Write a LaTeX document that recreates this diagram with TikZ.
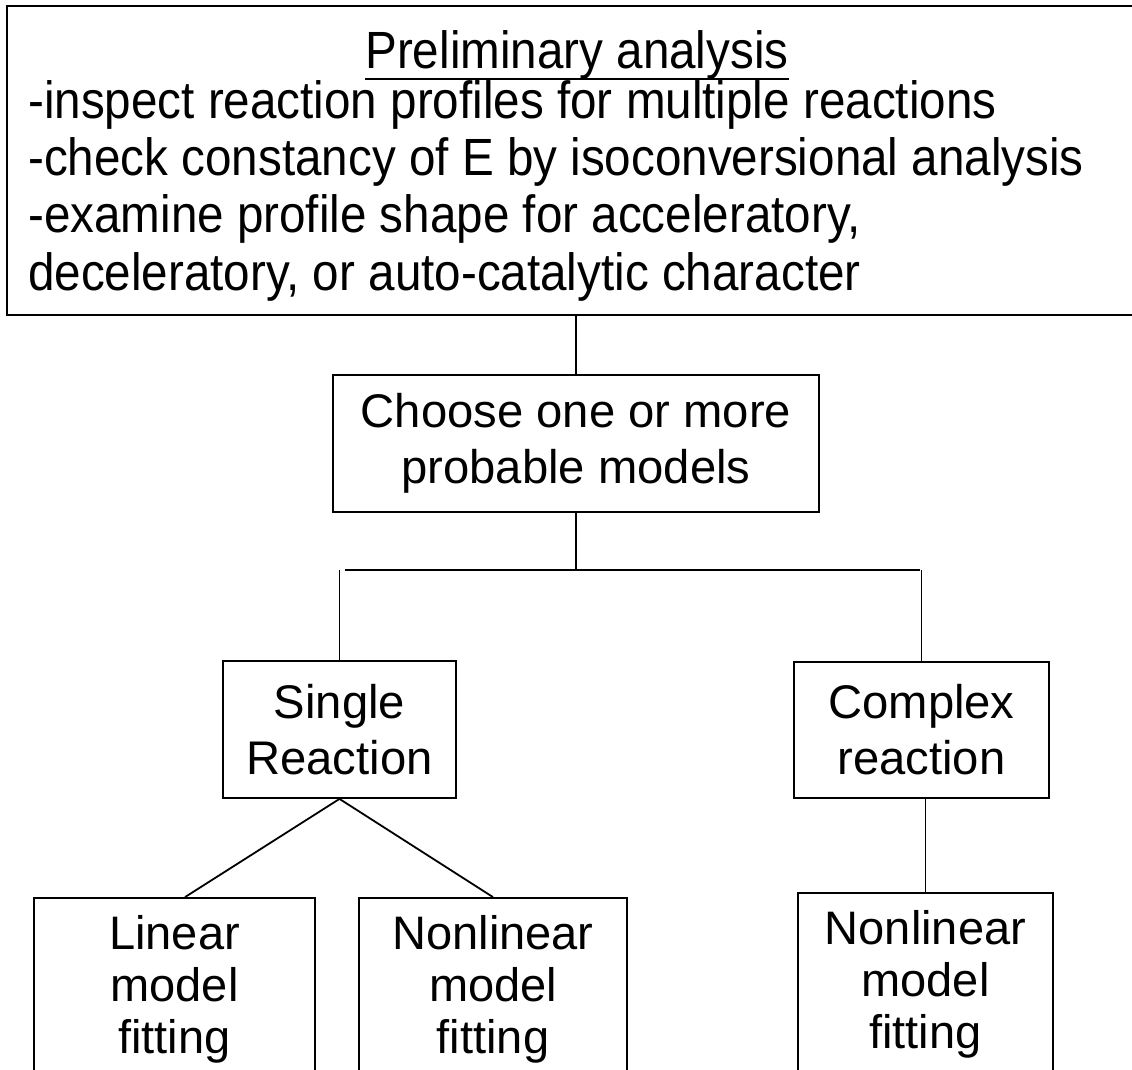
\documentclass[tikz,border=0pt]{standalone}
\usepackage{fontspec}
\setmainfont{Liberation Sans}
\newcommand\headfont{\fontsize{47.6}{57.3}\selectfont}
\newcommand\midfont{\fontsize{47.2}{56}\selectfont}
\newcommand\lowfont{\fontsize{47}{52}\selectfont}
% the heading text is set slightly taller than wide
\newcommand\tallline[1]{\scalebox{1}[1.1]{#1}}
\begin{document}
\begin{tikzpicture}[x=1pt,y=-1pt,
  box/.style={draw, line width=1.8pt, inner sep=0pt, align=center},
  midbox/.style={box, font=\midfont},
  lowbox/.style={box, font=\lowfont, minimum height=182pt},
  link/.style={line width=1.8pt},
]
\useasboundingbox (0,0) rectangle (1132,1070);
\clip (0,0) rectangle (1132,1070);

% outer box with the preliminary checks
\node[box, minimum width=1140pt, minimum height=309pt] (prelim) at (577,160.5) {};
\node[font=\headfont, anchor=base, inner sep=0pt] (prelimtitle) at (577,68.5) {\tallline{Preliminary analysis}};
\draw[line width=2.2pt] ([yshift=-10.5pt]prelimtitle.base west) -- ([yshift=-10.5pt]prelimtitle.base east);
% the base anchor of a multi-line node sits on its last line
\node[font=\headfont, align=left, anchor=base west, inner sep=0pt] (prelimbody) at (28,290)
  {\tallline{-inspect reaction profiles for multiple reactions}\\
   \tallline{-check constancy of E by isoconversional analysis}\\
   \tallline{-examine profile shape for acceleratory,}\\
   \tallline{deceleratory, or auto-catalytic character}};

% model choice and the two reaction types
\node[midbox, minimum width=486pt, minimum height=137pt] (choose) at (576,443.5) {Choose one or more\\probable models};
\node[midbox, minimum width=233pt, minimum height=137pt] (single) at (339.5,729.5) {Single\\Reaction};
\node[midbox, minimum width=255pt, minimum height=136pt] (complex) at (921.5,730) {Complex\\reaction};

% fitting methods
\node[lowbox, minimum width=281pt] (lin) at (174.5,989) {Linear\\model\\fitting};
\node[lowbox, minimum width=268pt] (nlin) at (493,989) {Nonlinear\\model\\fitting};
\node[lowbox, minimum width=255pt] (nlin2) at (925.5,984) {Nonlinear\\model\\fitting};

% connectors
\coordinate (hl) at (345,570);
\coordinate (hr) at (920,570);
\draw[link] (choose.north) -- (choose.north |- prelim.south);
\draw[link] (choose.south) -- (choose.south |- hl);
\draw[link] (hl) -- (hr);
\draw[link] (single.north) -- (single.north |- hl);
\draw[link] (complex.north) -- (complex.north |- hr);
\draw[link] (single.south) -- ([xshift=10.5pt]lin.north);
\draw[link] (single.south) -- (nlin.north);
\draw[link] (nlin2.north) -- (nlin2.north |- complex.south);
\end{tikzpicture}
\end{document}
